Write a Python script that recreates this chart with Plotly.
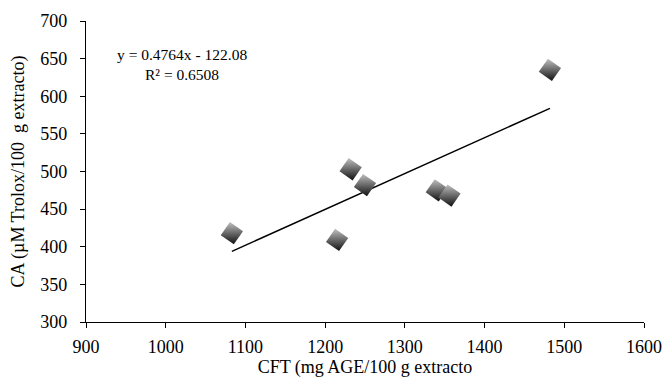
import plotly.graph_objects as go

# Data
cft = [1083, 1215, 1232, 1250, 1340, 1356, 1482]
ca = [418, 409, 503, 482, 475, 468, 635]
slope = 0.4764
intercept = -122.08
r2 = 0.6508

x_ticks = [900, 1000, 1100, 1200, 1300, 1400, 1500, 1600]
y_ticks = [300, 350, 400, 450, 500, 550, 600, 650, 700]

font_family = "Liberation Serif"

trend_x = [min(cft), max(cft)]
trend_y = [slope * v + intercept for v in trend_x]

fig = go.Figure()
fig.add_trace(go.Scatter(
    x=trend_x, y=trend_y, mode="lines",
    line=dict(color="black", width=1.5), hoverinfo="skip", showlegend=False,
))
fig.add_trace(go.Scatter(
    x=cft, y=ca, mode="markers", showlegend=False,
    marker=dict(symbol="square", size=16, angle=35, color="#c0c0c0",
                gradient=dict(type="vertical", color="#101010"),
                line=dict(width=0)),
))

fig.add_annotation(
    x=0.172, y=0.857, xref="paper", yref="paper",
    xanchor="center", yanchor="middle",
    text=f"y = {slope}x - {abs(intercept):.2f}<br>R² = {r2}",
    showarrow=False, align="center",
    font=dict(family=font_family, size=15.5, color="black"),
)

fig.update_layout(
    width=663, height=379,
    margin=dict(l=86, r=19, t=21, b=57, autoexpand=False),
    plot_bgcolor="white", paper_bgcolor="white",
    font=dict(family=font_family, size=18, color="black"),
    xaxis=dict(
        range=[900, 1600], tickvals=x_ticks, showgrid=False, zeroline=False,
        showline=True, linecolor="black", linewidth=1.3,
        ticks="outside", ticklen=5, tickcolor="black", automargin=False,
        ticklabelstandoff=3,
        title=dict(text="CFT (mg AGE/100 g extracto", standoff=3,
                   font=dict(family=font_family, size=18)),
        tickfont=dict(family=font_family, size=18),
    ),
    yaxis=dict(
        range=[300, 700], tickvals=y_ticks, showgrid=False, zeroline=False,
        showline=True, linecolor="black", linewidth=1.3,
        ticks="outside", ticklen=5, tickcolor="black", automargin=False,
        ticklabelstandoff=9,
        title=dict(text="CA (µM Trolox/100  g extracto)", standoff=10,
                   font=dict(family=font_family, size=18)),
        tickfont=dict(family=font_family, size=18),
    ),
)

fig.write_html("out.html")
